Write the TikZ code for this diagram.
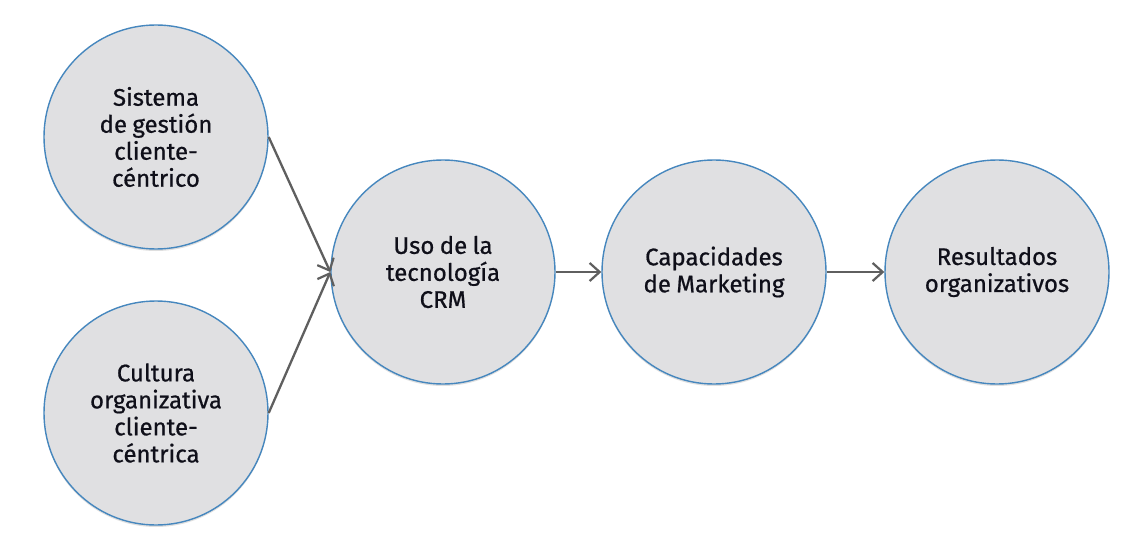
\documentclass[tikz,border=0pt]{standalone}
\usepackage{fontspec}
\setmainfont{Fira Sans}
\newfontfamily\labelfont{Fira Sans}[FakeBold=0.7,WordSpace=0.85]
\usetikzlibrary{arrows.meta,shadows}
\definecolor{circfill}{RGB}{224,224,226}
\definecolor{circline}{RGB}{70,135,190}
\definecolor{arrowgray}{RGB}{95,95,95}
\definecolor{labeltext}{RGB}{15,15,25}
\begin{document}
\begin{tikzpicture}[x=1pt,y=-1pt,
  concept/.style={circle, minimum size=224pt, inner sep=0pt,
    fill=circfill, draw=circline, line width=1.4pt,
    drop shadow={opacity=0.25, shadow xshift=0pt, shadow yshift=-2pt},
    align=center, text=labeltext,
    font=\labelfont\fontsize{24}{27}\selectfont},
  link/.style={draw=arrowgray, line width=2.3pt,
    -{Straight Barb[length=10pt,width=18pt,line width=2.2pt]}}]
  \useasboundingbox[fill=white] (0,0) rectangle (1132,556);

  \node[concept] (sistema) at (156,137) {Sistema\\de gestión\\cliente-\\céntrico};
  \node[concept] (cultura) at (156,413) {Cultura\\organizativa\\cliente-\\céntrica};
  \node[concept] (uso)     at (443,272) {Uso de la\\tecnología\\CRM};
  \node[concept] (capac)   at (714,272) {Capacidades\\de Marketing};
  \node[concept] (result)  at (997,272) {Resultados\\organizativos};

  \draw[link] (sistema.east) -- (uso.west);
  \draw[link] (cultura.east) -- (uso.west);
  \draw[link] (uso.east) -- (capac.west);
  \draw[link] (capac.east) -- (result.west);
\end{tikzpicture}
\end{document}
